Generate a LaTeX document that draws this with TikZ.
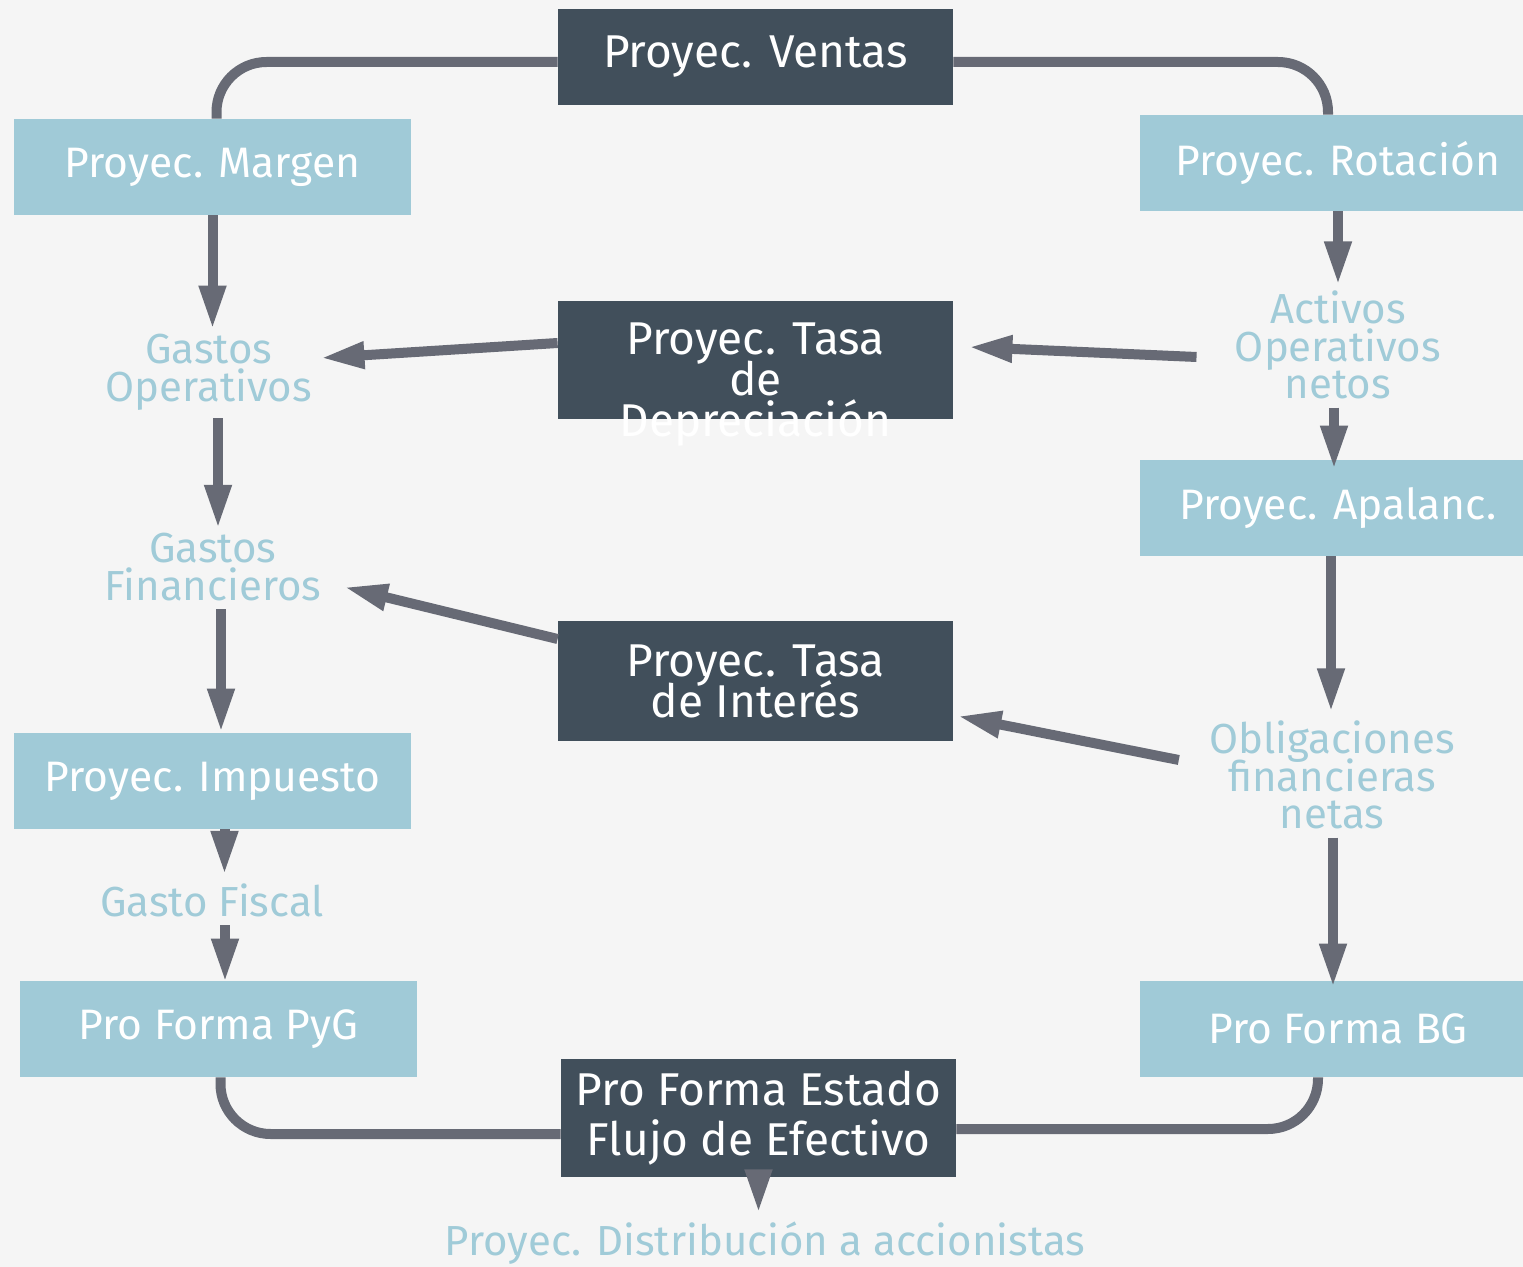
\documentclass[tikz,border=0pt]{standalone}
\usepackage{fontspec}
\setmainfont{Fira Sans}
\usetikzlibrary{arrows.meta,calc}
\definecolor{bgc}{HTML}{F5F5F5}
\definecolor{darkbox}{HTML}{414F5B}
\definecolor{lightbox}{HTML}{A0CAD7}
\definecolor{arrowc}{HTML}{676A75}
\definecolor{labelc}{HTML}{A0CBD8}
\setlength{\lineskiplimit}{-100pt}
\tikzset{
  darkn/.style={fill=darkbox, text=white, minimum width=197.5pt, minimum height=48pt,
    inner sep=0pt, align=center, font=\fontsize{23}{20.5}\selectfont},
  lightn/.style={fill=lightbox, text=white, minimum width=198.5pt, minimum height=48pt,
    inner sep=0pt, align=center, font=\fontsize{21.3}{20}\selectfont},
  lbl/.style={text=labelc, align=center, inner sep=4pt, font=\fontsize{21}{18.8}\selectfont},
  conn/.style={draw=arrowc, line width=5pt, rounded corners=25pt},
  arr/.style={draw=arrowc, line width=5pt, -{Triangle[length=22pt,width=12.5pt]}},
}
\begin{document}
\begin{tikzpicture}[x=0.5pt,y=-0.5pt]
\useasboundingbox (0,0) rectangle (1523,1267);
\fill[bgc] (0,0) rectangle (1523,1267);

% boxes
\node[darkn] (ventas) at (755.5,57) {Proyec. Ventas};
\node[lightn] (margen) at (212.5,167) {Proyec. Margen};
\node[lightn] (rot) at (1338,163) {Proyec. Rotación};
\node[darkn, minimum height=59pt, label={[text=white, align=center, font=\fontsize{23}{20.5}\selectfont, yshift=-12.5pt]center:{Proyec. Tasa\\de\\Depreciación}}] (tdep) at (755.5,360) {};
\node[lightn] (apal) at (1338,508) {Proyec. Apalanc.};
\node[darkn, minimum height=60pt] (tint) at (755.5,681) {Proyec. Tasa\\de Interés};
\node[lightn] (imp) at (212.5,781) {Proyec. Impuesto};
\node[lightn] (pyg) at (218.5,1029) {Pro Forma PyG};
\node[lightn] (bg) at (1338,1029) {Pro Forma BG};
\node[darkn, minimum height=59pt, font=\fontsize{23}{25}\selectfont] (flujo) at (758.5,1118) {Pro Forma Estado\\Flujo de Efectivo};

% labels
\node[lbl] (gop) at (209,372) {Gastos\\Operativos};
\node[lbl] (gfin) at (213,567) {Gastos\\Financieros};
\node[lbl] (gfis) at (212,900) {Gasto Fiscal};
\node[lbl] (aon) at (1338,345) {Activos\\Operativos\\netos};
\node[lbl] (ofn) at (1332,775) {Obligaciones\\financieras\\netas};
\node[lbl] (dist) at (765,1243) {Proyec. Distribución a accionistas};

% frame connectors
\draw[conn] ($(ventas.west)+(0,5)$) -| ($(margen.north)+(4,0)$);
\draw[conn] ($(ventas.east)+(0,5)$) -| ($(rot.north)+(-10,0)$);
\draw[conn] ($(pyg.south)+(2,0)$) |- ($(flujo.west)+(0,16)$);
\draw[conn] ($(bg.south)+(-20,0)$) |- ($(flujo.east)+(0,11)$);

% vertical arrows
\draw[arr] (margen.south) -- ($(margen.south |- gop.north)+(0,4)$);
\draw[arr] ($(gop.south)+(9,0)$) -- ($(gop.south |- gfin.north)+(9,4)$);
\draw[arr] ($(gfin.south)+(8,0)$) -- ($(gfin.south |- imp.north)+(8,0)$);
\draw[arr] ($(imp.south)+(12,0)$) -- ($(imp.south |- gfis.north)+(12,0)$);
\draw[arr] ($(gfis.south)+(13,0)$) -- ($(gfis.south |- pyg.north)+(13,2)$);
\draw[arr] (rot.south) -- ($(rot.south |- aon.north)+(0,3)$);
\draw[arr] ($(aon.south)+(-4,0)$) -- ($(aon.south |- apal.north)+(-4,10)$);
\draw[arr] ($(apal.south)+(-7,0)$) -- ($(apal.south |- ofn.north)+(-7,0)$);
\draw[arr] ($(ofn.south)+(1,0)$) -- ($(ofn.south |- bg.north)+(1,7)$);
\draw[arr] (flujo.south) -- (flujo.south |- dist.north);

% slanted arrows
\draw[arr] ($(tdep.west)+(0,-17)$) -- ($(gop.east)+(0,-14)$);
\draw[arr] ($(aon.west)+(-30,12)$) -- ($(tdep.east)+(15,-13)$);
\draw[arr] ($(tint.west)+(0,-42)$) -- ($(gfin.east)+(14,20)$);
\draw[arr] ($(ofn.west)+(-22,-15)$) -- ($(tint.east)+(4,35)$);
\end{tikzpicture}
\end{document}
